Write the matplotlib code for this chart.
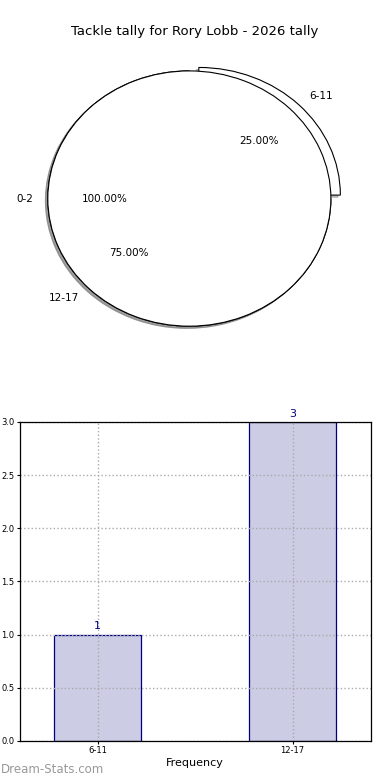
import matplotlib
matplotlib.use('Agg')
from matplotlib import pyplot as plt

# pie data (shares as printed on the chart)
pie_labels = ['0-2', '6-11', '12-17']
pie_shares = [1.00, 0.25, 0.75]

# bar data
bar_labels = ['6-11', '12-17']
bar_values = [1, 3]

title = 'Tackle tally for Rory Lobb - 2026 tally'

fig = plt.figure(figsize=(3.9, 7.8), dpi=100)
fig.subplots_adjust(left=0.05, right=0.95, top=0.95, bottom=0.05, hspace=0.2)

ax1 = fig.add_subplot(2, 1, 1)
wp = {'edgecolor': 'black', 'linewidth': 0.8, 'facecolor': 'white'}
tp = {'fontsize': 7.5}
shad = {'ox': -0.012, 'oy': -0.012, 'shade': 0.5, 'alpha': 0.5}


def one_wedge(share, label, start, z, center=(0, 0)):
    w, t, a = ax1.pie([share], labels=[label], autopct='%.2f%%',
                      normalize=False, startangle=start, center=center,
                      shadow=shad, wedgeprops=wp, textprops=tp, frame=True)
    for p in w:
        p.set_zorder(z)
    for txt in t + a:
        txt.set_zorder(10)


# 6-11 wedge, pushed out a bit
one_wedge(pie_shares[1], pie_labels[1], 0, 1, center=(0.067, 0.027))
# 12-17 wedge
one_wedge(pie_shares[2], pie_labels[2], 90, 2)
# 0-2 full circle on top
one_wedge(pie_shares[0], pie_labels[0], 0, 3)

ax1.set_aspect('auto')
ax1.set_xlim(-1.2, 1.28)
ax1.set_ylim(-1.25, 1.25)
ax1.axis('off')
ax1.set_title(title, fontsize=9.5, pad=3)

ax2 = fig.add_subplot(2, 1, 2)
xpos = list(range(len(bar_values)))
ax2.bar(xpos, bar_values, width=0.45, color='#ccccE4', edgecolor='#000080',
        linewidth=0.9, zorder=2)
for x, v in zip(xpos, bar_values):
    ax2.text(x, v + 0.03, str(v), ha='center', va='bottom', color='#000080',
             fontsize=8)
ax2.set_xlim(-0.4, 1.4)
ax2.set_ylim(0, 3.0)
ax2.set_xticks(xpos)
ax2.set_xticklabels(bar_labels)
yt = [0, 0.5, 1.0, 1.5, 2.0, 2.5, 3.0]
ax2.set_yticks(yt)
ax2.set_yticklabels(['%.1f' % v for v in yt])
ax2.tick_params(labelsize=6, length=2, width=0.8, pad=1.5)
ax2.grid(True, linestyle=':', color='#aaaaaa', linewidth=1, zorder=3)
ax2.set_axisbelow(False)
for s in ax2.spines.values():
    s.set_linewidth(0.9)
    s.set_zorder(5)
ax2.set_xlabel('Frequency', fontsize=8, labelpad=2)

fig.text(0.003, 0.013, 'Dream-Stats.com', color='#999999', fontsize=8.5,
         ha='left', va='center')

fig.savefig('out.png', dpi=100)
